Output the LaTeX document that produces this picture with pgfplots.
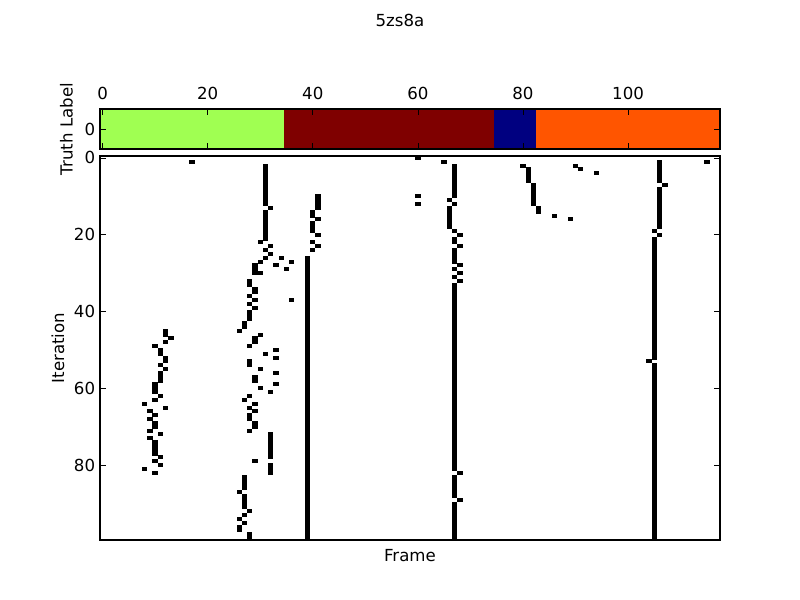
\documentclass[border=0pt]{standalone}
\usepackage{fontspec}
\setmainfont{DejaVu Sans}
\usepackage{pgfplots}
\pgfplotsset{compat=1.18}
\definecolor{cgreen}{RGB}{160,255,82}
\definecolor{cdred}{RGB}{127,0,0}
\definecolor{cnavy}{RGB}{0,0,128}
\definecolor{corange}{RGB}{255,85,0}
\pgfdeclareplotmark{cell}{\pgfpathrectangle{\pgfpoint{-1.94bp}{-1.43bp}}{\pgfpoint{3.88bp}{2.86bp}}\pgfusepathqfill}
\pgfplotsset{
  every axis/.append style={font=\fontsize{12}{14}\selectfont},
  /pgf/number format/assume math mode=true,
  cls/.style={scale only axis, width=446.4bp, anchor=south west, tick align=inside,
    major tick length=4bp, axis line style={line width=0.9bp}, every tick/.style={black, line width=0.5bp},
    xmin=-0.5, xmax=117.5},
}
\begin{document}
\begin{tikzpicture}
\path[use as bounding box] (0,0) rectangle (576bp,432bp);
\node at (288bp,417.6bp) {\fontsize{12}{14}\selectfont 5zs8a};
% truth label bar
\begin{axis}[cls, at={(72bp,324.72bp)}, height=28.8bp, ymin=-0.5, ymax=0.5,
  xtick={0,20,40,60,80,100}, xticklabel pos=upper, xticklabel style={yshift=3.5bp},
  ytick={0}, ylabel={Truth Label}, ylabel style={xshift=0bp, yshift=1.5bp}, axis on top]
\addplot[fill=cgreen, draw=none] coordinates {(-0.5,-0.5) (34.5,-0.5) (34.5,0.5) (-0.5,0.5)} -- cycle;
\addplot[fill=cdred, draw=none] coordinates {(34.5,-0.5) (74.5,-0.5) (74.5,0.5) (34.5,0.5)} -- cycle;
\addplot[fill=cnavy, draw=none] coordinates {(74.5,-0.5) (82.5,-0.5) (82.5,0.5) (74.5,0.5)} -- cycle;
\addplot[fill=corange, draw=none] coordinates {(82.5,-0.5) (117.5,-0.5) (117.5,0.5) (82.5,0.5)} -- cycle;
\end{axis}
% iteration image
\begin{axis}[cls, at={(72bp,43.2bp)}, height=276.48bp, ymin=-0.5, ymax=99.5, y dir=reverse,
  xtick=\empty, ytick={0,20,40,60,80}, xlabel={Frame}, xlabel style={yshift=-3.5bp}, ylabel={Iteration}]
\addplot[only marks, mark=cell, black] coordinates {
(12,45)(12,46)(13,47)(12,48)(10,49)(11,50)(11,51)(12,52)(12,53)(11,54)(12,55)(11,56)(11,57)(11,58)(10,59)(10,60)(10,61)(11,62)(10,63)(8,64)(12,65)(9,66)(10,67)(9,68)(10,69)(10,70)(9,71)(11,72)(9,73)(10,74)(10,75)(10,76)(10,77)(11,78)(10,79)(11,80)(8,81)(10,82)
(17,1)
(31,2)(31,3)(31,4)(31,5)(31,6)(31,7)(31,8)(31,9)(31,10)(31,11)(31,12)(32,13)(31,14)(31,15)(31,16)(31,17)(31,18)(31,19)(31,20)(31,21)
(30,22)(32,23)(31,24)(32,25)(31,26)(34,26)(30,27)(33,28)(29,28)(29,29)(29,30)(30,30)(28,32)(28,33)(29,34)(29,35)(28,36)(29,37)(28,38)(29,39)(28,40)(28,41)(28,42)(27,43)(27,44)(26,45)(30,46)(29,47)(29,48)(28,49)(33,50)(31,51)(33,52)(28,53)(28,54)(30,55)(33,56)(29,57)(29,58)(33,59)(30,60)(32,61)(28,62)(27,63)(29,64)(28,65)(29,66)(28,67)(28,68)(29,69)(29,70)(28,71)
(32,72)(32,73)(32,74)(32,75)(32,76)(32,77)(32,78)(29,79)(32,80)(32,81)(32,82)
(27,83)(27,84)(27,85)(27,86)(26,87)(27,88)(27,89)(27,90)(27,91)(28,92)(27,93)(26,94)(27,95)(26,96)(26,97)(28,98)(28,99)
(35,29)(36,27)(36,37)
(41,10)(41,11)(41,12)(41,13)(40,14)(40,15)(41,16)(40,17)(40,18)(40,19)(41,20)(40,22)(41,23)(40,24)
(39,26)(39,27)(39,28)(39,29)(39,30)(39,31)(39,32)(39,33)(39,34)(39,35)(39,36)(39,37)(39,38)(39,39)(39,40)(39,41)(39,42)(39,43)(39,44)(39,45)(39,46)(39,47)(39,48)(39,49)(39,50)(39,51)(39,52)(39,53)(39,54)(39,55)(39,56)(39,57)(39,58)(39,59)(39,60)(39,61)(39,62)(39,63)(39,64)(39,65)(39,66)(39,67)(39,68)(39,69)(39,70)(39,71)(39,72)(39,73)(39,74)(39,75)(39,76)(39,77)(39,78)(39,79)(39,80)(39,81)(39,82)(39,83)(39,84)(39,85)(39,86)(39,87)(39,88)(39,89)(39,90)(39,91)(39,92)(39,93)(39,94)(39,95)(39,96)(39,97)(39,98)(39,99)
(60,0)(65,1)(60,10)(60,12)
(67,2)(67,3)(67,4)(67,5)(67,6)(67,7)(67,8)(67,9)(67,10)(66,11)(67,12)(66,13)(66,14)(66,15)(66,16)(66,17)(66,18)(67,19)(68,20)(67,21)(67,22)(68,23)(67,24)(67,25)(67,26)(67,27)(68,28)(67,29)(68,30)(67,31)(68,32)
(67,33)(67,34)(67,35)(67,36)(67,37)(67,38)(67,39)(67,40)(67,41)(67,42)(67,43)(67,44)(67,45)(67,46)(67,47)(67,48)(67,49)(67,50)(67,51)(67,52)(67,53)(67,54)(67,55)(67,56)(67,57)(67,58)(67,59)(67,60)(67,61)(67,62)(67,63)(67,64)(67,65)(67,66)(67,67)(67,68)(67,69)(67,70)(67,71)(67,72)(67,73)(67,74)(67,75)(67,76)(67,77)(67,78)(67,79)(67,80)(67,81)
(68,82)(67,83)(67,84)(67,85)(67,86)(67,87)(67,88)(68,89)
(67,90)(67,91)(67,92)(67,93)(67,94)(67,95)(67,96)(67,97)(67,98)(67,99)
(80,2)(81,3)(81,4)(81,5)(81,6)(82,7)(82,8)(82,9)(82,10)(82,11)(82,12)(83,13)(83,14)(86,15)(89,16)(90,2)(91,3)(94,4)
(115,1)
(106,1)(106,2)(106,3)(106,4)(106,5)(106,6)(107,7)(106,8)(106,9)(106,10)(106,11)(106,12)(106,13)(106,14)(106,15)(106,16)(106,17)(106,18)(105,19)(106,20)
(105,21)(105,22)(105,23)(105,24)(105,25)(105,26)(105,27)(105,28)(105,29)(105,30)(105,31)(105,32)(105,33)(105,34)(105,35)(105,36)(105,37)(105,38)(105,39)(105,40)(105,41)(105,42)(105,43)(105,44)(105,45)(105,46)(105,47)(105,48)(105,49)(105,50)(105,51)(105,52)
(104,53)
(105,54)(105,55)(105,56)(105,57)(105,58)(105,59)(105,60)(105,61)(105,62)(105,63)(105,64)(105,65)(105,66)(105,67)(105,68)(105,69)(105,70)(105,71)(105,72)(105,73)(105,74)(105,75)(105,76)(105,77)(105,78)(105,79)(105,80)(105,81)(105,82)(105,83)(105,84)(105,85)(105,86)(105,87)(105,88)(105,89)(105,90)(105,91)(105,92)(105,93)(105,94)(105,95)(105,96)(105,97)(105,98)(105,99)
};
\end{axis}
\end{tikzpicture}
\end{document}
